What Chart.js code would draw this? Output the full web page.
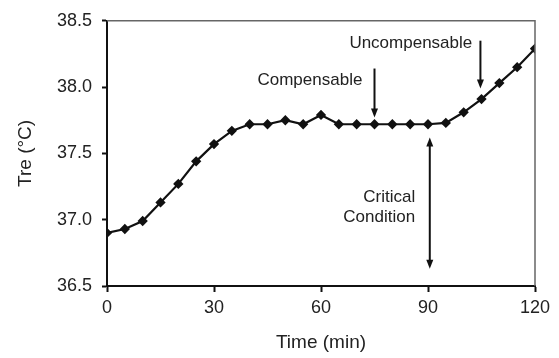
<!DOCTYPE html>
<html>
<head>
<meta charset="utf-8">
<script src="https://cdn.jsdelivr.net/npm/chart.js@4"></script>
<style>
  html, body { margin: 0; padding: 0; background: #fff; }
  #wrap { width: 559px; height: 358px; }
</style>
</head>
<body>
<div id="wrap"><canvas id="chart" width="559" height="358"></canvas></div>
<script>
// dados
const times = [0, 5, 10, 15, 20, 25, 30, 35, 40, 45, 50, 55, 60, 65, 70, 75, 80, 85, 90, 95, 100, 105, 110, 115, 120];
const tre = [36.90, 36.93, 36.99, 37.13, 37.27, 37.44, 37.57, 37.67, 37.72, 37.72, 37.75, 37.72, 37.79,
             37.72, 37.72, 37.72, 37.72, 37.72, 37.72, 37.73, 37.81, 37.91, 38.03, 38.15, 38.29];
const xTicks = [0, 30, 60, 90, 120];
const yTicks = [36.5, 37.0, 37.5, 38.0, 38.5];

const FONT = 'Liberation Sans, Arial, sans-serif';
const TXT = '#222';

// anotações (setas + textos) em coordenadas de dados
const notes = [
    { lines: ['Compensable'], tx: 71.6, ty: [38.05], x: 75, y1: 38.14, y2: 37.77, heads: ['end'] },
    { lines: ['Uncompensable'], tx: 102.4, ty: [38.33], x: 104.7, y1: 38.35, y2: 37.99, heads: ['end'] },
    { lines: ['Critical', 'Condition'], tx: 86.4, ty: [37.17, 37.02], x: 90.5, y1: 37.62, y2: 36.63, heads: ['start', 'end'] }
];

function arrowHead(ctx, x, y, dir) {
    ctx.beginPath();
    ctx.moveTo(x, y);
    ctx.lineTo(x - 3.5, y - 9 * dir);
    ctx.lineTo(x + 3.5, y - 9 * dir);
    ctx.closePath();
    ctx.fill();
}

const notesPlugin = {
    id: 'notes',
    afterDatasetsDraw(chart) {
        const { ctx, chartArea, scales } = chart;
        ctx.save();
        // moldura topo/direita
        ctx.strokeStyle = '#666';
        ctx.lineWidth = 1.5;
        ctx.beginPath();
        ctx.moveTo(chartArea.left, chartArea.top);
        ctx.lineTo(chartArea.right, chartArea.top);
        ctx.lineTo(chartArea.right, chartArea.bottom);
        ctx.stroke();

        ctx.fillStyle = TXT;
        ctx.strokeStyle = '#111';
        ctx.font = '17px ' + FONT;
        ctx.textAlign = 'right';
        ctx.textBaseline = 'middle';
        notes.forEach(n => {
            const tx = scales.x.getPixelForValue(n.tx);
            n.lines.forEach((t, i) => ctx.fillText(t, tx, scales.y.getPixelForValue(n.ty[i])));
            const ax = scales.x.getPixelForValue(n.x);
            const ya = scales.y.getPixelForValue(n.y1);
            const yb = scales.y.getPixelForValue(n.y2);
            ctx.lineWidth = 2;
            ctx.beginPath();
            ctx.moveTo(ax, ya + (n.heads.includes('start') ? 6 : 0));
            ctx.lineTo(ax, yb - 6);
            ctx.stroke();
            ctx.fillStyle = '#111';
            if (n.heads.includes('end')) arrowHead(ctx, ax, yb, 1);
            if (n.heads.includes('start')) arrowHead(ctx, ax, ya, -1);
            ctx.fillStyle = TXT;
        });
        ctx.restore();
    }
};

new Chart(document.getElementById('chart'), {
    type: 'line',
    data: {
        datasets: [{
            data: times.map((t, i) => ({ x: t, y: tre[i] })),
            borderColor: '#111',
            backgroundColor: '#111',
            borderWidth: 2.2,
            pointStyle: 'rectRot',
            pointRadius: 3.6,
            tension: 0
        }]
    },
    options: {
        responsive: false,
        animation: false,
        events: [],
        layout: { padding: { top: 18, right: 24, left: 0, bottom: 0 } },
        plugins: { legend: { display: false }, tooltip: { enabled: false } },
        scales: {
            x: {
                type: 'linear',
                min: 0, max: 120,
                afterBuildTicks: s => { s.ticks = xTicks.map(v => ({ value: v })); },
                afterFit: s => { s.height = 72; },
                ticks: { color: TXT, font: { size: 18, family: FONT }, padding: 5 },
                grid: { drawOnChartArea: false, tickLength: 6, tickColor: '#111', tickWidth: 2 },
                border: { color: '#111', width: 2 },
                title: { display: true, text: 'Time (min)', color: TXT, font: { size: 19, family: FONT }, padding: { top: 6 } }
            },
            y: {
                min: 36.5, max: 38.5,
                afterBuildTicks: s => { s.ticks = yTicks.map(v => ({ value: v })); },
                afterFit: s => { s.width = 107; },
                ticks: { color: TXT, font: { size: 18, family: FONT }, padding: 10, callback: v => v.toFixed(1) },
                grid: { drawOnChartArea: false, tickLength: 5, tickColor: '#111', tickWidth: 2 },
                border: { color: '#111', width: 2 },
                title: { display: true, text: 'Tre (°C)', color: TXT, font: { size: 19, family: FONT }, padding: { top: 14, bottom: 0 } }
            }
        }
    },
    plugins: [notesPlugin]
});
</script>
</body>
</html>
